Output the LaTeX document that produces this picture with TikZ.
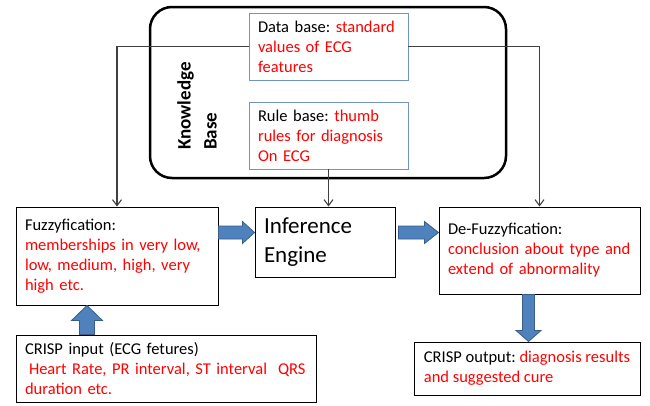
\documentclass[tikz,border=0pt]{standalone}
\usepackage{fontspec}
\setmainfont{Carlito}
\usetikzlibrary{arrows.meta,calc}
\definecolor{boxblue}{HTML}{7094C8}
\definecolor{arrowfill}{HTML}{4F81BD}
\definecolor{arrowline}{HTML}{385D8A}
\definecolor{linegray}{HTML}{404040}
\newcommand{\hl}[1]{\textcolor{red}{#1}}

\tikzset{
  box/.style={draw=black, line width=1pt, fill=white, align=left, inner xsep=9pt, inner ysep=0pt, font=\fontsize{16.5}{20}\selectfont\frenchspacing},
  basebox/.style={box, draw=boxblue, line width=0.9pt},
  conn/.style={draw=linegray, line width=1.1pt, -{Straight Barb[length=6pt,width=9pt]}},
  blockarrow/.style={fill=arrowfill, draw=arrowline, line width=0.8pt},
}

\begin{document}
\begin{tikzpicture}[x=1pt, y=-1pt]
            \useasboundingbox (0,0) rectangle (650,405);

            % knowledge base frame
            \node[draw, line width=2.5pt, rounded corners=22pt, minimum width=356pt, minimum height=171pt] (kb) at (328,92.5) {};
            \node[rotate=90, anchor=west, inner sep=0pt, align=left, font=\fontsize{19}{26}\selectfont\bfseries] (kbtext) at (197,150) {Knowledge\\Base};
            \node[basebox, text width=141pt, minimum height=67pt] (db) at (328.5,46.5) {Data base: \hl{standard}\\\hl{values of ECG}\\\hl{features}};
            \node[basebox, text width=141pt, minimum height=67pt] (rb) at (328.5,135.5) {Rule base: \hl{thumb}\\\hl{rules for diagnosis}\\\hl{On ECG}};

            % processing chain
            \node[box, text width=184pt, minimum height=98pt] (fuzz) at (117,256) {Fuzzyfication:\\\hl{memberships in very low,}\\\hl{low, medium, high, very}\\\hl{high etc.}};
            \node[box, text width=122pt, minimum height=70pt, font=\fontsize{23}{29}\selectfont] (inf) at (325,242) {Inference\\Engine};
            \node[box, text width=183pt, minimum height=87pt] (def) at (539.5,250.5) {De-Fuzzyfication:\\\hl{conclusion about type and}\\\hl{extend of abnormality}};
            \node[box, text width=282pt, minimum height=67pt] (crispin) at (166,368.5) {CRISP input (ECG fetures)\\\hl{\hspace{4pt}Heart Rate, PR interval, ST interval\ \ QRS}\\\hl{duration etc.}};
            \node[box, minimum width=226pt, minimum height=53pt] (crispout) at (527,368.5) {CRISP output: \hl{diagnosis results}\\\hl{and suggested cure}};

            % knowledge lines
            \draw[conn] (db.west) -| (fuzz.north);
            \draw[conn] (db.east) -| (def.north);
            \draw[conn] (rb.south) -- (rb.south |- inf.north);

            % block arrows
            \coordinate (fi1) at ($(fuzz.north east)+(0,26)$);
            \coordinate (fi2) at (fi1 -| inf.west);
            \draw[blockarrow] ($(fi1)+(0,-6.5)$) -- ($(fi2)+(-12,-6.5)$) -- ($(fi2)+(-12,-11)$) -- (fi2) -- ($(fi2)+(-12,11)$) -- ($(fi2)+(-12,6.5)$) -- ($(fi1)+(0,6.5)$) -- cycle;

            \coordinate (id1) at (inf.east |- fi1);
            \coordinate (id2) at (fi1 -| def.west);
            \draw[blockarrow] ($(id1)+(3,-6.5)$) -- ($(id2)+(-14,-6.5)$) -- ($(id2)+(-14,-11)$) -- (id2) -- ($(id2)+(-14,11)$) -- ($(id2)+(-14,6.5)$) -- ($(id1)+(3,6.5)$) -- cycle;

            \coordinate (in1) at ($(crispin.north west)+(71.5,0)$);
            \coordinate (in2) at (in1 |- fuzz.south);
            \draw[blockarrow] ($(in1)+(-7.5,0)$) -- ($(in2)+(-7.5,15)$) -- ($(in2)+(-15.5,15)$) -- (in2) -- ($(in2)+(15.5,15)$) -- ($(in2)+(7.5,15)$) -- ($(in1)+(7.5,0)$) -- cycle;

            \coordinate (out1) at ($(def.south west)+(90,0)$);
            \coordinate (out2) at (out1 |- crispout.north);
            \draw[blockarrow] ($(out1)+(-6,0)$) -- ($(out2)+(-6,-11)$) -- ($(out2)+(-12.5,-11)$) -- (out2) -- ($(out2)+(12.5,-11)$) -- ($(out2)+(6,-11)$) -- ($(out1)+(6,0)$) -- cycle;
        \end{tikzpicture}
\end{document}
